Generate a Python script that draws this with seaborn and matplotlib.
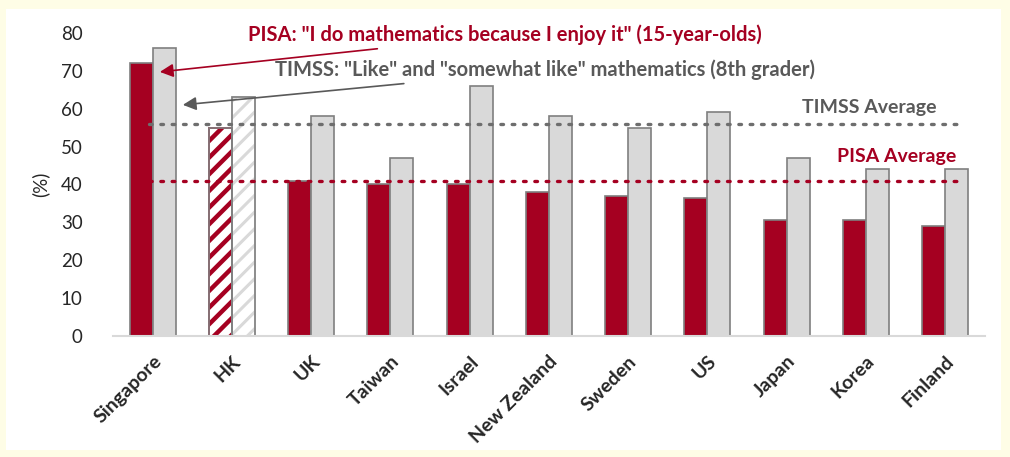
import pandas as pd
import seaborn as sns
import matplotlib.pyplot as plt

# data
countries = ["Singapore", "HK", "UK", "Taiwan", "Israel", "New Zealand",
             "Sweden", "US", "Japan", "Korea", "Finland"]
pisa = [72, 55, 41, 40, 40, 38, 37, 36.5, 30.5, 30.5, 29]
timss = [76, 63, 58, 47, 66, 58, 55, 59, 47, 44, 44]
pisa_avg = 41
timss_avg = 56

RED = "#A50021"
GRAY = "#D9D9D9"
DARK = "#595959"

df = pd.DataFrame({"Country": countries, "PISA": pisa, "TIMSS": timss})
df = pd.melt(df, id_vars=["Country"], var_name="Survey", value_name="value")

sns.set_style("white")
plt.rcParams["font.family"] = ["Lato", "DejaVu Sans"]

fig = plt.figure(figsize=(10.1, 4.57), dpi=100, facecolor="#FEFDE6")
# white panel behind the chart
panel = plt.Rectangle((0.006, 0.015), 0.985, 0.965, transform=fig.transFigure,
                      facecolor="white", edgecolor="none", zorder=-10)
fig.add_artist(panel)
ax = fig.add_axes([0.112, 0.265, 0.863, 0.663])
ax.set_facecolor("none")

sns.barplot(data=df, x="Country", y="value", hue="Survey", ax=ax,
            palette={"PISA": RED, "TIMSS": GRAY}, width=0.58, gap=0,
            edgecolor="#7F7F7F", linewidth=1.2, legend=False, saturation=1)

# hatch HK bars
n = len(countries)
bars = ax.patches
hk = countries.index("HK")
for b, c, hw in ((bars[hk], RED, 3.2), (bars[n + hk], GRAY, 2.2)):
    b.set_facecolor("white")
    b.set_hatch("//")
    b.set_edgecolor(c)
    try:
        b.set_hatch_linewidth(hw)
    except AttributeError:
        plt.rcParams["hatch.linewidth"] = 2.8
    ax.add_patch(plt.Rectangle(b.get_xy(), b.get_width(), b.get_height(),
                               fill=False, edgecolor="#7F7F7F", lw=1.2))

# averages
ax.plot([-0.05, 10.2], [timss_avg, timss_avg], color="#6E6E6E", lw=2.4,
        linestyle=(0, (0.8, 2.6)), dash_capstyle="round", zorder=5)
ax.plot([-0.05, 10.2], [pisa_avg, pisa_avg], color=RED, lw=2.4,
        linestyle=(0, (0.8, 2.6)), dash_capstyle="round", zorder=5)
ax.text(9.04, 60.4, "TIMSS Average", color=DARK, fontsize=14, fontweight="bold",
        ha="center", va="center")
ax.text(9.39, 47.4, "PISA Average", color=RED, fontsize=14, fontweight="bold",
        ha="center", va="center")

ax.annotate('PISA: "I do mathematics because I enjoy it" (15-year-olds)',
            xy=(0.09, 69.7), xytext=(1.2, 79.4), color=RED, fontsize=14.5,
            fontweight="bold", ha="left", va="center", annotation_clip=False,
            arrowprops=dict(arrowstyle="-|>", color=RED, lw=1.2, mutation_scale=20,
                            shrinkA=0, shrinkB=0))
ax.annotate('TIMSS: "Like" and "somewhat like" mathematics (8th grader)',
            xy=(0.38, 61), xytext=(1.54, 70.2), color=DARK, fontsize=14.5,
            fontweight="bold", ha="left", va="center", annotation_clip=False,
            arrowprops=dict(arrowstyle="-|>", color=DARK, lw=1.2, mutation_scale=20,
                            shrinkA=0, shrinkB=0))

ax.set_xlim(-0.5, n - 0.5)
ax.set_ylim(0, 80)
ax.set_yticks(range(0, 81, 10))
ax.tick_params(axis="y", labelsize=13.5, length=0, pad=22)
ax.tick_params(axis="x", length=0, pad=12)
ax.set_xticks(range(n))
ax.set_xticklabels(countries, rotation=45, ha="right", rotation_mode="anchor",
                   fontsize=14, fontweight="bold")
ax.set_xlabel("")
ax.set_ylabel("(%)", fontsize=13.5, labelpad=8)
for s in ["top", "right", "left"]:
    ax.spines[s].set_visible(False)
ax.spines["bottom"].set_color("#D9D9D9")
ax.spines["bottom"].set_linewidth(1.5)

fig.savefig("out.png", dpi=100, facecolor=fig.get_facecolor())
